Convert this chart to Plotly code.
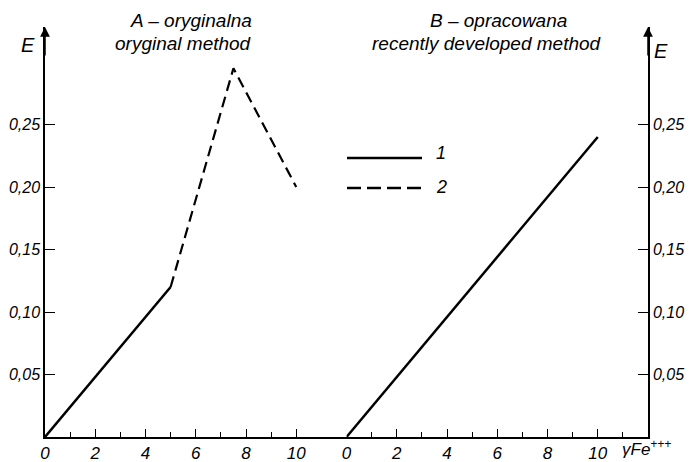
import plotly.graph_objects as go

# ---- data ----
left_solid_x = [0, 5]
left_solid_y = [0, 0.12]
left_dash_x = [5, 7.5, 10]
left_dash_y = [0.12, 0.295, 0.20]
right_x = [0, 10]
right_y = [0, 0.24]

x_tickvals = [0, 2, 4, 6, 8, 10]
x_ticktext = ["0", "2", "4", "6", "8", "10"]
x_left_minor = [1, 3, 5, 7, 9]
x_right_minor = [1, 3, 5, 7, 9, 11]
y_tickvals = [0.05, 0.10, 0.15, 0.20, 0.25]
y_ticktext = ["0,05", "0,10", "0,15", "0,20", "0,25"]

title_a = ["A – oryginalna", "oryginal method"]
title_b = ["B – opracowana", "recently developed method"]
legend_labels = ["1", "2"]

# ---- layout constants (page pixels; the page body has an 8px margin) ----
PAGE_W, PAGE_H = 694, 462
OFF = 8
PL, PR, PT, PB = 45, 648, 27, 437          # plot area in page pixels
W, H = PAGE_W - OFF, PAGE_H - OFF
L, T = PL - OFF, PT - OFF
R, B = PAGE_W - PR, PAGE_H - PB
PW, PH = PR - PL, PB - PT
FONT = "Liberation Sans, Arial, sans-serif"


def px(x):
    return (x - PL) / PW


def py(y):
    return (PB - y) / PH


fig = go.Figure()
fig.add_trace(go.Scatter(x=left_solid_x, y=left_solid_y, mode="lines",
                         line=dict(color="black", width=2.5), xaxis="x", yaxis="y",
                         showlegend=False))
fig.add_trace(go.Scatter(x=left_dash_x, y=left_dash_y, mode="lines",
                         line=dict(color="black", width=2.2, dash="11px,6px"),
                         xaxis="x", yaxis="y", showlegend=False))
fig.add_trace(go.Scatter(x=right_x, y=right_y, mode="lines",
                         line=dict(color="black", width=2.5), xaxis="x2", yaxis="y2",
                         showlegend=False))

tickfont_x = dict(family=FONT, size=17, color="black", style="italic")
tickfont_y = dict(family=FONT, size=16, color="black", style="italic")

common_x = dict(range=[0, 12], showgrid=False, zeroline=False, showline=True,
                linecolor="black", linewidth=1.5, ticks="inside", ticklen=8,
                tickwidth=1.3, tickcolor="black", tickmode="array",
                tickvals=x_tickvals, ticktext=x_ticktext, tickfont=tickfont_x,
                automargin=False, fixedrange=True)
common_y = dict(range=[0, 0.328], showgrid=False, zeroline=False, showline=True,
                linecolor="black", linewidth=1.5, ticks="inside", ticklen=10,
                tickwidth=1.3, tickcolor="black", tickmode="array",
                tickvals=y_tickvals, ticktext=y_ticktext, tickfont=tickfont_y,
                automargin=False, fixedrange=True)


def label(txt, cx, cy, size, xanchor="center"):
    return dict(text=txt, x=px(cx), y=py(cy), xref="paper", yref="paper",
                showarrow=False, xanchor=xanchor, yanchor="middle",
                font=dict(family=FONT, size=size, color="black", style="italic"))


annotations = [
    label(title_a[0], 191, 21, 19),
    label(title_a[1], 183, 43, 19),
    label(title_b[0], 498, 21, 19),
    label(title_b[1], 487, 43, 19),
    label("E", 28, 45, 20),
    label("E", 661, 51, 20),
    label("γFe<sup>+++</sup>", 620, 448, 17, xanchor="left"),
]
for lab, cy in zip(legend_labels, [153, 187]):
    annotations.append(label(lab, 441, cy, 18))
# axis arrows
for xr in ["x", "x2"]:
    xv = 0 if xr == "x" else 12
    annotations.append(dict(x=xv, y=1.0, xref=xr, yref="paper", ax=0, ay=30,
                            showarrow=True, arrowhead=2, arrowsize=1.3, arrowwidth=1.5,
                            arrowcolor="black", text=""))

shapes = [
    dict(type="line", xref="paper", yref="paper", x0=px(347), x1=px(422),
         y0=py(158), y1=py(158), line=dict(color="black", width=2.3)),
    dict(type="line", xref="paper", yref="paper", x0=px(347), x1=px(422),
         y0=py(188), y1=py(188), line=dict(color="black", width=2.3, dash="14px,6px")),
]

fig.update_layout(
    width=W, height=H,
    margin=dict(l=L, r=R, t=T, b=B, pad=0, autoexpand=False),
    paper_bgcolor="white", plot_bgcolor="white",
    xaxis=dict(domain=[0, 0.5], anchor="y",
               minor=dict(tickmode="array", tickvals=x_left_minor, ticks="inside",
                          ticklen=5, tickwidth=1.3, tickcolor="black"),
               **common_x),
    xaxis2=dict(domain=[0.5, 1], anchor="y2",
                minor=dict(tickmode="array", tickvals=x_right_minor, ticks="inside",
                           ticklen=5, tickwidth=1.3, tickcolor="black"),
                **common_x),
    yaxis=dict(domain=[0, 1], anchor="x", side="left", **common_y),
    yaxis2=dict(domain=[0, 1], anchor="x2", side="right", **common_y),
    annotations=annotations,
    shapes=shapes,
    showlegend=False,
)

fig.write_html("out.html")
